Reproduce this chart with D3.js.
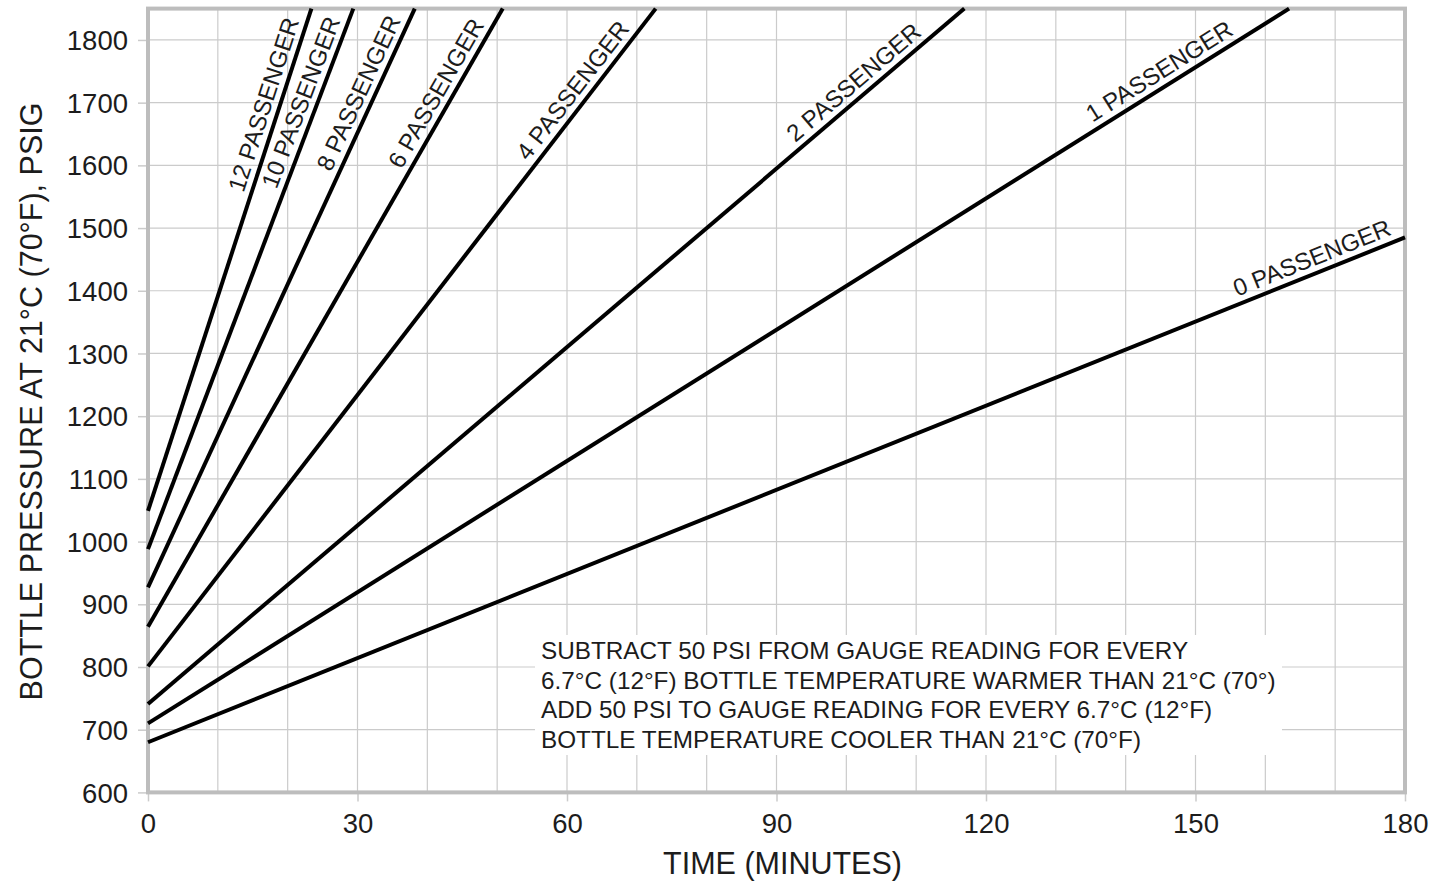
<!DOCTYPE html>
<html><head><meta charset="utf-8">
<script src="https://cdn.jsdelivr.net/npm/d3@7"></script>
<style>
body{margin:0;background:#fff}
svg{display:block}
text{font-family:"Liberation Sans",Arial,Helvetica,sans-serif;fill:#1c1c1c}
</style>
</head><body><svg id="c" width="1447" height="884"></svg>
<script>
// ---- data ----
const seriesNames = ["0 PASSENGER","1 PASSENGER","2 PASSENGER","4 PASSENGER","6 PASSENGER","8 PASSENGER","10 PASSENGER","12 PASSENGER"];
const startTime  = [0, 0, 0, 0, 0, 0, 0, 0];
const startPsi   = [680, 710, 741, 801, 864, 927, 988, 1049];
const endTime    = [180, 163.4, 116.9, 72.7, 50.8, 38.2, 29.4, 23.4];
const endPsi     = [1485, 1850, 1850, 1850, 1850, 1850, 1850, 1850];
const labelTime  = [167.5, 146, 102.5, 62.6, 43.2, 32.2, 24.0, 18.7];
const xTickValues = [0, 30, 60, 90, 120, 150, 180];
const yTickValues = [600, 700, 800, 900, 1000, 1100, 1200, 1300, 1400, 1500, 1600, 1700, 1800];
const xGridValues = [10,20,30,40,50,60,70,80,90,100,110,120,130,140,150,160,170];
const yGridValues = [700,800,900,1000,1100,1200,1300,1400,1500,1600,1700,1800];
const noteLines = [
  "SUBTRACT 50 PSI FROM GAUGE READING FOR EVERY",
  "6.7°C (12°F) BOTTLE TEMPERATURE WARMER THAN 21°C (70°)",
  "ADD 50 PSI TO GAUGE READING FOR EVERY 6.7°C (12°F)",
  "BOTTLE TEMPERATURE COOLER THAN 21°C (70°F)"
];
const xTitle = "TIME (MINUTES)";
const yTitle = "BOTTLE PRESSURE AT 21°C (70°F), PSIG";

// ---- layout ----
const L = 148, R = 1405, T = 8.6, B = 792.4;
const x = d3.scaleLinear().domain([0, 180]).range([L, R]);
const y = d3.scaleLinear().domain([600, 1850]).range([B, T]);

const svg = d3.select("#c");
const gridColor = "#cbcbcb";

// grid
svg.append("g").selectAll("line").data(xGridValues).join("line")
  .attr("x1", d => x(d)).attr("x2", d => x(d))
  .attr("y1", T).attr("y2", B)
  .attr("stroke", gridColor).attr("stroke-width", 1.2);
svg.append("g").selectAll("line").data(yGridValues).join("line")
  .attr("x1", L).attr("x2", R)
  .attr("y1", d => y(d)).attr("y2", d => y(d))
  .attr("stroke", gridColor).attr("stroke-width", 1.2);

// note background box (covers the grid)
svg.append("rect").attr("x", 535).attr("y", 635).attr("width", 747).attr("height", 120).attr("fill", "#fff");

// axes
const yAxis = svg.append("g").attr("transform", `translate(${L},0)`)
  .call(d3.axisLeft(y).tickValues(yTickValues).tickSize(10).tickPadding(10).tickFormat(d3.format("d")));
yAxis.select(".domain").remove();
yAxis.selectAll(".tick line").attr("stroke", gridColor).attr("stroke-width", 1.5);
yAxis.selectAll(".tick text").attr("font-size", 27.5).attr("font-family", "Liberation Sans, Arial, sans-serif").attr("fill", "#1c1c1c").attr("dy", "0.35em");

const xAxis = svg.append("g").attr("transform", `translate(0,${B})`)
  .call(d3.axisBottom(x).tickValues(xTickValues).tickSize(9).tickPadding(12).tickFormat(d3.format("d")));
xAxis.select(".domain").remove();
xAxis.selectAll(".tick line").attr("stroke", gridColor).attr("stroke-width", 1.5);
xAxis.selectAll(".tick text").attr("font-size", 27.5).attr("font-family", "Liberation Sans, Arial, sans-serif").attr("fill", "#1c1c1c").attr("y", 41).attr("dy", 0);

// frame
svg.append("rect").attr("x", L).attr("y", T).attr("width", R - L).attr("height", B - T)
  .attr("fill", "none").attr("stroke", "#bdbdbd").attr("stroke-width", 4);

// series lines
const series = seriesNames.map((name, i) => ({
  name,
  pts: [[startTime[i], startPsi[i]], [endTime[i], endPsi[i]]],
  lt: labelTime[i]
}));
const line = d3.line().x(d => x(d[0])).y(d => y(d[1]));
svg.append("g").selectAll("path").data(series).join("path")
  .attr("d", d => line(d.pts))
  .attr("fill", "none").attr("stroke", "#000").attr("stroke-width", 4).attr("stroke-linecap", "butt");

// series labels along lines
svg.append("g").selectAll("text").data(series).join("text")
  .attr("transform", d => {
    const [a, b] = d.pts;
    const px0 = x(a[0]), py0 = y(a[1]), px1 = x(b[0]), py1 = y(b[1]);
    const f = (d.lt - a[0]) / (b[0] - a[0]);
    const px = px0 + f * (px1 - px0), py = py0 + f * (py1 - py0);
    const ang = Math.atan2(py1 - py0, px1 - px0) * 180 / Math.PI;
    return `translate(${px},${py}) rotate(${ang})`;
  })
  .attr("y", -7.5)
  .attr("text-anchor", "middle")
  .attr("font-size", 24)
  .text(d => d.name);

// note
svg.append("g").selectAll("text").data(noteLines).join("text")
  .attr("x", 541).attr("y", (d, i) => 659 + i * 29.6)
  .attr("font-size", 24.3)
  .text(d => d);

// titles
svg.append("text").attr("x", 782.5).attr("y", 874).attr("text-anchor", "middle")
  .attr("font-size", 30.5).text(xTitle);
svg.append("text").attr("transform", "translate(42,401.5) rotate(-90)").attr("text-anchor", "middle")
  .attr("font-size", 30.5).text(yTitle);
</script>
</body></html>
